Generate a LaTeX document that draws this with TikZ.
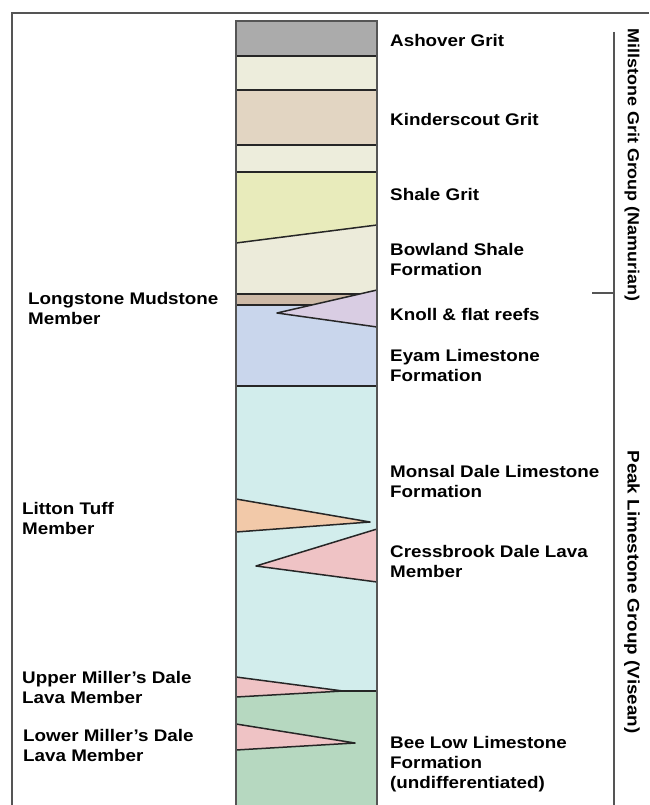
\documentclass[tikz,border=0pt]{standalone}
\usepackage{fontspec}
\setmainfont{Liberation Sans}[FakeStretch=1.12]
\definecolor{cAsh}{HTML}{ABABAB}
\definecolor{cPale}{HTML}{EDEDDC}
\definecolor{cKind}{HTML}{E2D5C2}
\definecolor{cShale}{HTML}{E8EBBB}
\definecolor{cBow}{HTML}{ECEBDA}
\definecolor{cLong}{HTML}{CDB9A6}
\definecolor{cKnoll}{HTML}{D9CDE3}
\definecolor{cEyam}{HTML}{C9D6EC}
\definecolor{cMonsal}{HTML}{D2EDEC}
\definecolor{cTuff}{HTML}{F2C9A9}
\definecolor{cLava}{HTML}{EFC3C5}
\definecolor{cBee}{HTML}{B6D8C0}
\definecolor{cFrame}{HTML}{555555}
\begin{document}
\begin{tikzpicture}[x=1pt,y=-1pt,
  lbl/.style={font=\bfseries\fontsize{16.8}{20}\selectfont, align=left, anchor=west, inner sep=0pt},
  grp/.style={font=\bfseries\fontsize{16.8}{20}\selectfont, rotate=-90, inner sep=0pt},
  bound/.style={draw=black!85, line width=1.5pt, line join=round},
  frameline/.style={draw=cFrame, line width=1.6pt}]
\useasboundingbox (0,0) rectangle (649,805);
% outer frame
\draw[frameline] (12,805) -- (12,13) -- (649,13);
% layers
\fill[cAsh] (236,21) rectangle (377,56);
\fill[cPale] (236,56) rectangle (377,90);
\fill[cKind] (236,90) rectangle (377,145);
\fill[cPale] (236,145) rectangle (377,172);
\fill[cShale] (236,172) -- (377,172) -- (377,225) -- (236,243) -- cycle;
\fill[cBow] (236,243) -- (377,225) -- (377,294) -- (236,294) -- cycle;
\fill[cLong] (236,294) rectangle (377,305);
\fill[cEyam] (236,305) rectangle (377,386);
\fill[cMonsal] (236,386) rectangle (377,691);
\fill[cBee] (236,691) rectangle (377,805);
% boundaries
\draw[bound] (236,56) -- (377,56);
\draw[bound] (236,90) -- (377,90);
\draw[bound] (236,145) -- (377,145);
\draw[bound] (236,172) -- (377,172);
\draw[bound] (236,243) -- (377,225);
\draw[bound] (236,294) -- (377,294);
\draw[bound] (236,305) -- (377,305);
\draw[bound] (236,386) -- (377,386);
\draw[bound] (236,691) -- (377,691);
% wedges
\filldraw[bound, fill=cKnoll] (377,290) -- (277,313) -- (377,327);
\filldraw[bound, fill=cTuff] (236,499) -- (370,522) -- (236,532);
\filldraw[bound, fill=cLava] (377,529) -- (256,566) -- (377,582);
\filldraw[bound, fill=cLava] (236,677) -- (343,691) -- (236,697);
\filldraw[bound, fill=cLava] (236,724) -- (355,743) -- (236,750);
% column outline
\draw[frameline] (236,805) -- (236,21) -- (377,21) -- (377,805);
% bracket
\draw[frameline] (614,32) -- (614,805);
\draw[frameline] (592,293) -- (614,293);
% right labels
\node[lbl] (ash) at (390,40) {Ashover Grit};
\node[lbl] (kin) at (390,119) {Kinderscout Grit};
\node[lbl] (sha) at (390,194) {Shale Grit};
\node[lbl] (bow) at (390,259) {Bowland Shale\\Formation};
\node[lbl] (kno) at (390,314) {Knoll \& flat reefs};
\node[lbl] (eya) at (390,365) {Eyam Limestone\\Formation};
\node[lbl] (mon) at (390,481) {Monsal Dale Limestone\\Formation};
\node[lbl] (cre) at (390,561) {Cressbrook Dale Lava\\Member};
\node[lbl] (bee) at (390,764) {Bee Low Limestone\\Formation\\(undifferentiated)};
% left labels
\node[lbl] (lon) at (28,308) {Longstone Mudstone\\Member};
\node[lbl] (lit) at (22,518) {Litton Tuff\\Member};
\node[lbl] (upm) at (22,687) {Upper Miller's Dale\\Lava Member};
\node[lbl] (lom) at (23,745) {Lower Miller's Dale\\Lava Member};
% group labels
\node[grp, font=\bfseries\fontsize{16}{20}\selectfont] (mil) at (632,165) {Millstone Grit Group (Namurian)};
\node[grp] (pea) at (632,592) {Peak Limestone Group (Visean)};
\end{tikzpicture}
\end{document}
